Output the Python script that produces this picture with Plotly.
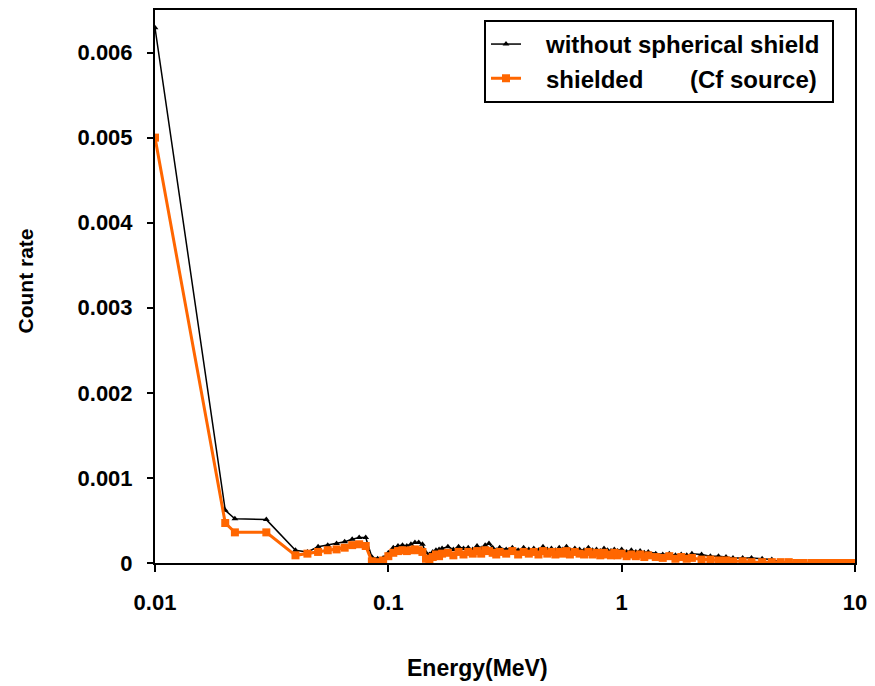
import plotly.graph_objects as go

energy = [0.01, 0.02, 0.022, 0.03, 0.04, 0.045, 0.05, 0.055, 0.06, 0.065, 0.07, 0.075, 0.08,
          0.085, 0.09, 0.095, 0.1, 0.105, 0.11, 0.115, 0.12, 0.125, 0.13, 0.135, 0.14, 0.145,
          0.15, 0.155, 0.16, 0.165, 0.17, 0.18, 0.19, 0.2, 0.21, 0.22, 0.23, 0.24, 0.25, 0.26,
          0.27, 0.28, 0.29, 0.3, 0.32, 0.34, 0.36, 0.38, 0.4, 0.42, 0.44, 0.46, 0.48, 0.5,
          0.52, 0.54, 0.56, 0.58, 0.6, 0.63, 0.66, 0.69, 0.72, 0.75, 0.78, 0.81, 0.84, 0.87,
          0.9, 0.93, 0.96, 1.0, 1.05, 1.1, 1.15, 1.2, 1.25, 1.3, 1.4, 1.5, 1.6, 1.7, 1.8, 1.9,
          2.0, 2.2, 2.4, 2.6, 2.8, 3.0, 3.3, 3.6, 4.0, 4.4, 4.8, 5.2, 5.6, 6.0, 6.5, 7.0, 7.5,
          8.0, 8.5, 9.0, 9.5, 10.0]

without_shield = [0.00629, 0.00062, 0.00052, 0.00051, 0.00015, 0.00013, 0.00019, 0.00021, 0.00023,
                  0.00025, 0.00028, 0.00030, 0.00030, 0.00007, 0.00005, 0.00006, 0.00012, 0.00018,
                  0.00020, 0.00021, 0.00020, 0.00022, 0.00024, 0.00024, 0.00022, 0.00012, 0.00010,
                  0.00013, 0.00015, 0.00016, 0.00017, 0.00019, 0.00016, 0.00019, 0.00017, 0.00018,
                  0.00016, 0.00020, 0.00017, 0.00021, 0.00023, 0.00018, 0.00015, 0.00018, 0.00016,
                  0.00018, 0.00015, 0.00018, 0.00016, 0.00017, 0.00015, 0.00019, 0.00016, 0.00017,
                  0.00015, 0.00018, 0.00016, 0.00019, 0.00015, 0.00017, 0.00016, 0.00015, 0.00018,
                  0.00015, 0.00016, 0.00014, 0.00017, 0.00015, 0.00014, 0.00016, 0.00014, 0.00016,
                  0.00013, 0.00015, 0.00013, 0.00014, 0.00012, 0.00013, 0.00011, 0.00010, 0.00011,
                  0.00009, 0.00010, 0.00009, 0.00011, 0.00010, 0.00008, 0.00008, 0.00007, 0.00006,
                  0.00006, 0.00006, 0.00005, 0.00004, 0.00001, 0.0, 0.0, 0.0, 0.0, 0.0, 0.0, 0.0,
                  0.0, 0.0, 0.0, 0.0]

shielded = [0.00500, 0.00047, 0.00036, 0.00036, 0.00009, 0.00011, 0.00013, 0.00015, 0.00016,
            0.00018, 0.00021, 0.00022, 0.00020, 0.00002, 0.00001, 0.00003, 0.00008, 0.00012,
            0.00014, 0.00015, 0.00014, 0.00015, 0.00016, 0.00015, 0.00013, 0.00005, 0.00004,
            0.00007, 0.00010, 0.00008, 0.00011, 0.00012, 0.00009, 0.00013, 0.00010, 0.00013,
            0.00011, 0.00014, 0.00011, 0.00015, 0.00014, 0.00012, 0.00010, 0.00013, 0.00011,
            0.00014, 0.00010, 0.00013, 0.00011, 0.00013, 0.00010, 0.00014, 0.00011, 0.00013,
            0.00010, 0.00013, 0.00011, 0.00014, 0.00010, 0.00013, 0.00011, 0.00010, 0.00013,
            0.00010, 0.00012, 0.00009, 0.00012, 0.00010, 0.00009, 0.00012, 0.00009, 0.00011,
            0.00008, 0.00010, 0.00008, 0.00010, 0.00007, 0.00009, 0.00007, 0.00006, 0.00008,
            0.00005, 0.00007, 0.00005, 0.00006, 0.00004, 0.00004, 0.00003, 0.00003, 0.00002,
            0.00002, 0.00001, 0.00001, 0.00001, 0.00001, 0.00001, 0.0, 0.0, 0.0, 0.0, 0.0, 0.0,
            0.0, 0.0, 0.0, 0.0]

x_ticks = [0.01, 0.1, 1, 10]
x_tick_text = ["0.01", "0.1", "1", "10"]
y_ticks = [0, 0.001, 0.002, 0.003, 0.004, 0.005, 0.006]
y_tick_text = ["0", "0.001", "0.002", "0.003", "0.004", "0.005", "0.006"]

FONT = "Liberation Sans, Arial, sans-serif"
ORANGE = "#FF6600"
NB = "\u00a0"

fig = go.Figure()
fig.add_trace(go.Scatter(
    x=energy, y=without_shield, mode="lines+markers",
    name=NB * 3 + "without spherical shield" + NB,
    legendgroup="a",
    line=dict(color="black", width=1.5),
    marker=dict(symbol="triangle-up", size=6, color="black"),
))
fig.add_trace(go.Scatter(
    x=energy, y=shielded, mode="lines+markers",
    name=NB * 3 + "shielded" + NB * 7 + "(Cf source)",
    legendgroup="b",
    line=dict(color=ORANGE, width=3),
    marker=dict(symbol="square", size=8, color=ORANGE),
))

fig.update_layout(
    width=875, height=686,
    margin=dict(l=155, r=18, t=8, b=123),
    paper_bgcolor="white", plot_bgcolor="white",
    font=dict(family=FONT, size=22, color="black", weight="bold"),
    showlegend=True,
    legend=dict(
        x=0.47, y=0.982, xanchor="left", yanchor="top",
        bgcolor="white", bordercolor="black", borderwidth=2,
        font=dict(family=FONT, size=24, color="black", weight="bold"),
        tracegroupgap=0, traceorder="grouped",
    ),
    xaxis=dict(
        type="log", range=[-2, 1],
        tickvals=x_ticks, ticktext=x_tick_text,
        showgrid=False, zeroline=False,
        showline=True, linecolor="black", linewidth=2, mirror=True,
        ticks="outside", ticklen=7, tickwidth=1.5, tickcolor="black",
        ticklabelstandoff=12,
        tickfont=dict(family=FONT, size=22, color="black", weight="bold"),
    ),
    yaxis=dict(
        range=[0, 0.0065],
        tickvals=y_ticks, ticktext=y_tick_text,
        showgrid=False, zeroline=False,
        showline=True, linecolor="black", linewidth=2, mirror=True,
        ticks="outside", ticklen=6, tickwidth=1.5, tickcolor="black",
        ticklabelstandoff=10,
        tickfont=dict(family=FONT, size=22, color="black", weight="bold"),
    ),
    annotations=[
        dict(text="Energy(MeV)", xref="paper", yref="paper", x=0.46, y=-0.189,
             showarrow=False, xanchor="center", yanchor="middle",
             font=dict(family=FONT, size=23, color="black", weight="bold")),
        dict(text="Count rate", xref="paper", yref="paper", x=-0.185, y=0.51,
             showarrow=False, xanchor="center", yanchor="middle", textangle=-90,
             font=dict(family=FONT, size=21, color="black", weight="bold")),
    ],
)

fig.write_html("out.html")
